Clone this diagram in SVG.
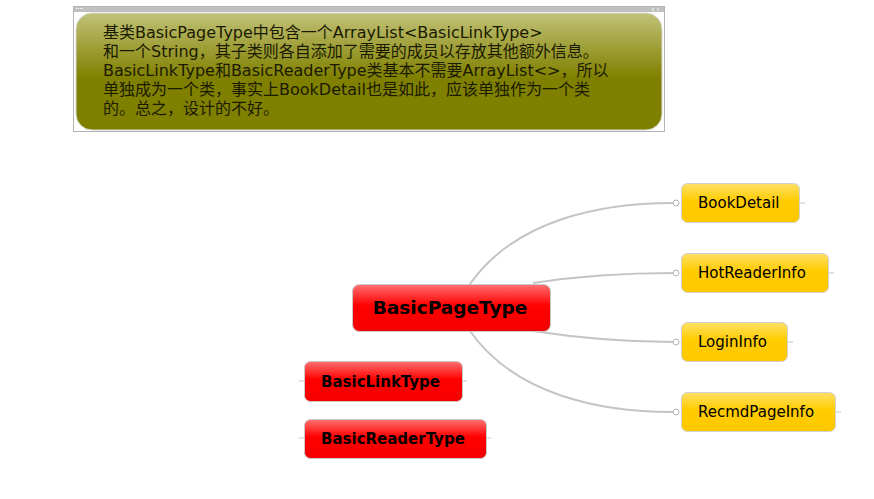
<svg xmlns="http://www.w3.org/2000/svg" width="874" height="499" viewBox="0 0 874 499">
<defs>
<linearGradient id="gOlive" x1="0" y1="0" x2="0" y2="1">
<stop offset="0" stop-color="#c2c279"/>
<stop offset="0.55" stop-color="#808000"/>
<stop offset="1" stop-color="#7f7f00"/>
</linearGradient>
<linearGradient id="gRed" x1="0" y1="0" x2="0" y2="1">
<stop offset="0" stop-color="#ff7070"/>
<stop offset="0.45" stop-color="#ff0000"/>
<stop offset="1" stop-color="#f40000"/>
</linearGradient>
<linearGradient id="gYel" x1="0" y1="0" x2="0" y2="1">
<stop offset="0" stop-color="#ffe066"/>
<stop offset="0.45" stop-color="#ffcc00"/>
<stop offset="1" stop-color="#ffc800"/>
</linearGradient>
</defs>
<style>
.red{fill:url(#gRed);stroke:#c8c8c8;stroke-width:1}
.yel{fill:url(#gYel);stroke:#d0d0d0;stroke-width:1}
.rt{font-family:"DejaVu Sans",Verdana,sans-serif;font-weight:bold;fill:#000}
.yt{font-family:"DejaVu Sans",Verdana,sans-serif;font-size:15px;fill:#000}
.note{font-family:"DejaVu Sans","Noto Sans CJK SC",sans-serif;font-size:16px;fill:#1a1a00}
.con{fill:none;stroke:#c4c4c4;stroke-width:2}
.stub{stroke:#c4c4c4;stroke-width:1}
.dot{fill:#fff;stroke:#b4b4b4;stroke-width:1}
</style>
<rect width="874" height="499" fill="#fff"/>
<g id="note">
<rect x="73.5" y="6.5" width="591" height="125" fill="#fff" stroke="#b4b4b4" stroke-width="1"/>
<rect x="74" y="7" width="590" height="5" fill="#c0c0c0"/>
<g fill="#fff"><rect x="76" y="8" width="1" height="1"/><rect x="78" y="8" width="1" height="1"/><rect x="80" y="8" width="1" height="1"/><rect x="82" y="8" width="1" height="1"/></g>
<path d="M654,8 l-2,1.5 l2,1.5 M657,8 l2,1.5 l-2,1.5" stroke="#fff" stroke-width="0.8" fill="none"/>
<rect x="76" y="13" width="586" height="117" rx="16" ry="16" fill="url(#gOlive)" stroke="#d8d8d8" stroke-width="1"/>
<text class="note" x="103" y="38">基类BasicPageType中包含一个ArrayList&lt;BasicLinkType&gt;</text>
<text class="note" x="103" y="57">和一个String，其子类则各自添加了需要的成员以存放其他额外信息。</text>
<text class="note" x="103" y="76">BasicLinkType和BasicReaderType类基本不需要ArrayList&lt;&gt;，所以</text>
<text class="note" x="103" y="95">单独成为一个类，事实上BookDetail也是如此，应该单独作为一个类</text>
<text class="note" x="103" y="114">的。总之，设计的不好。</text>
</g>
<g id="connectors">
<path class="con" d="M470,284 C515,220 600,203 673,203"/>
<path class="con" d="M533,283 C585,275 625,273 673,273"/>
<path class="con" d="M533,331 C585,339 625,342 673,342"/>
<path class="con" d="M470,331 C515,395 600,412 673,412"/>
<circle class="dot" cx="676" cy="203" r="3"/>
<circle class="dot" cx="676" cy="273" r="3"/>
<circle class="dot" cx="676" cy="342" r="3"/>
<circle class="dot" cx="676" cy="412" r="3"/>
<line class="stub" x1="800" y1="203" x2="805" y2="203"/>
<line class="stub" x1="829" y1="273" x2="834" y2="273"/>
<line class="stub" x1="788" y1="342" x2="793" y2="342"/>
<line class="stub" x1="836" y1="412" x2="841" y2="412"/>
<line class="stub" x1="299" y1="381" x2="304" y2="381"/>
<line class="stub" x1="462" y1="381" x2="467" y2="381"/>
<line class="stub" x1="299" y1="438" x2="304" y2="438"/>
<line class="stub" x1="486" y1="438" x2="491" y2="438"/>
</g>
<g id="BasicPageType">
<rect class="red" x="352.5" y="284.5" width="198" height="47" rx="7"/>
<text class="rt" x="450" y="314" font-size="18.5" text-anchor="middle">BasicPageType</text>
</g>
<g id="BasicLinkType">
<rect class="red" x="304.5" y="361.5" width="158" height="40" rx="6"/>
<text class="rt" x="321" y="387" font-size="15">BasicLinkType</text>
</g>
<g id="BasicReaderType">
<rect class="red" x="304.5" y="419.5" width="182" height="39" rx="6"/>
<text class="rt" x="321" y="444" font-size="15">BasicReaderType</text>
</g>
<g id="BookDetail">
<rect class="yel" x="681.5" y="183.5" width="118" height="39" rx="6"/>
<text class="yt" x="698" y="208">BookDetail</text>
</g>
<g id="HotReaderInfo">
<rect class="yel" x="681.5" y="253.5" width="147" height="39" rx="6"/>
<text class="yt" x="698" y="278">HotReaderInfo</text>
</g>
<g id="LoginInfo">
<rect class="yel" x="681.5" y="322.5" width="106" height="39" rx="6"/>
<text class="yt" x="698" y="347">LoginInfo</text>
</g>
<g id="RecmdPageInfo">
<rect class="yel" x="681.5" y="392.5" width="154" height="39" rx="6"/>
<text class="yt" x="698" y="417">RecmdPageInfo</text>
</g>
</svg>
